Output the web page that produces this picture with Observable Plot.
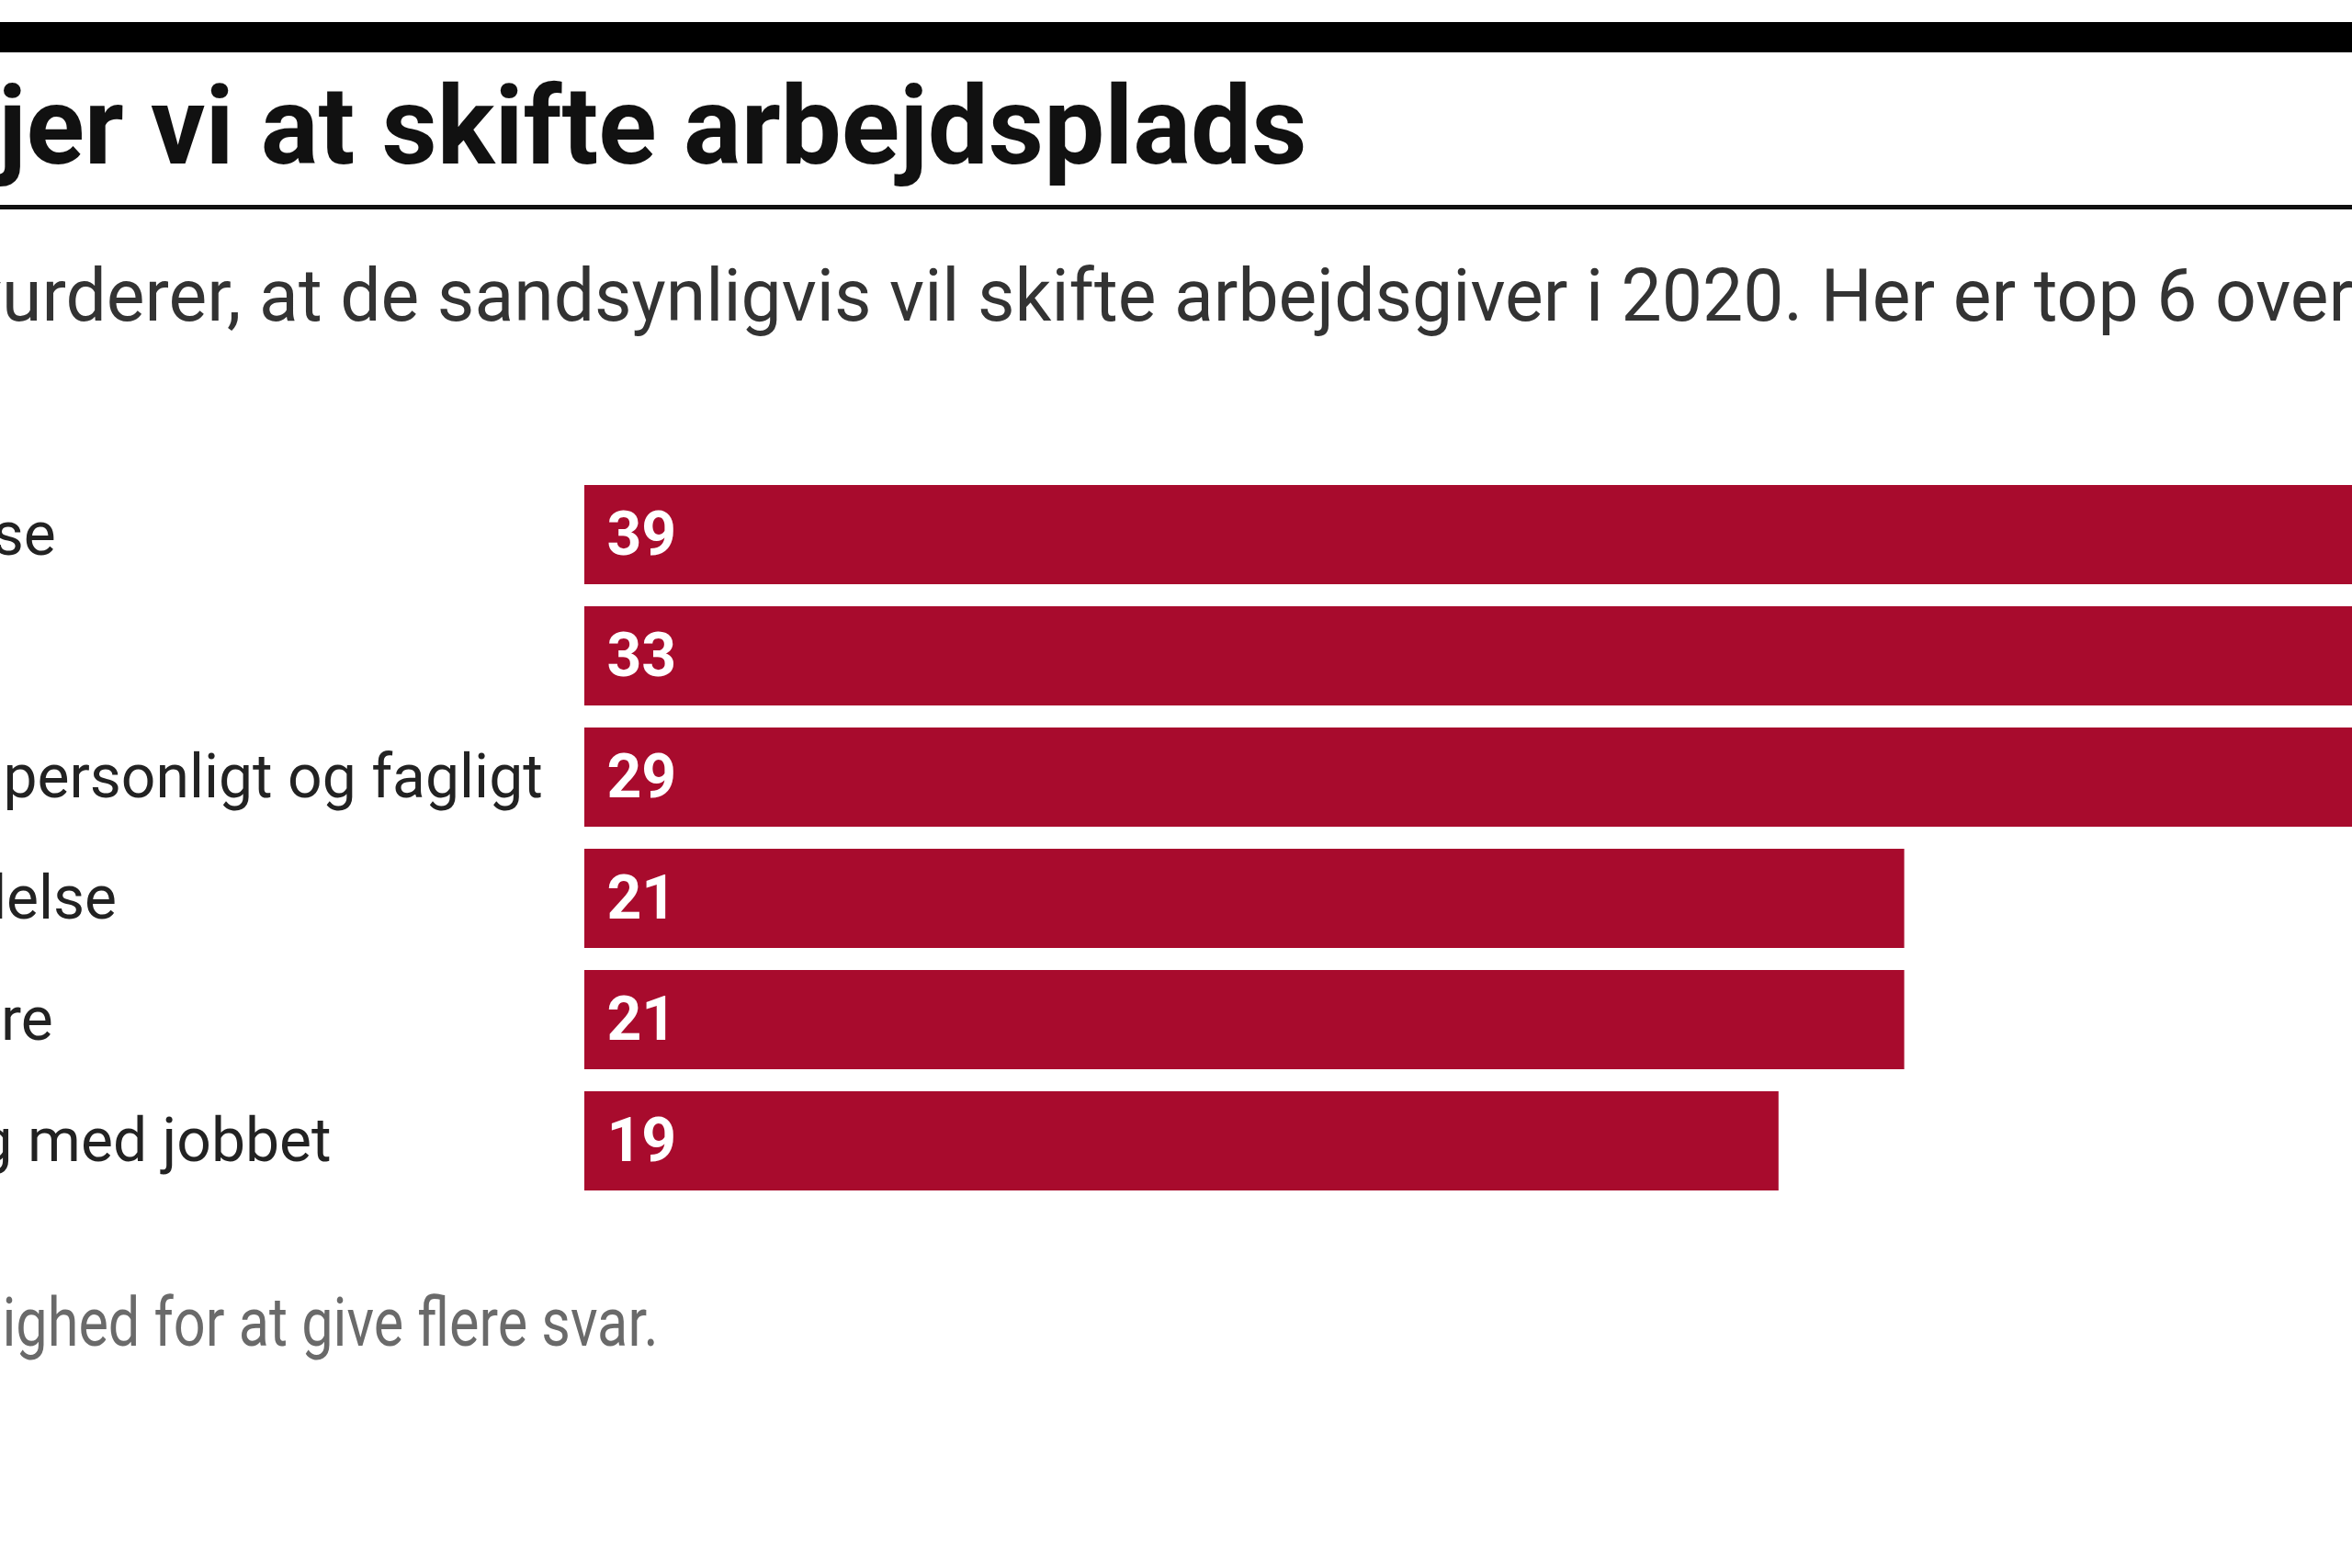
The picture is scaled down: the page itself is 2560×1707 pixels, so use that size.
<!DOCTYPE html>
<html lang="da">
<head>
<meta charset="utf-8">
<script src="https://cdn.jsdelivr.net/npm/d3@7"></script>
<script src="https://cdn.jsdelivr.net/npm/@observablehq/plot@0.6"></script>
<style>
  html, body { margin: 0; padding: 0; background: #fff; }
  body { width: 2560px; height: 1707px; overflow: hidden; position: relative; font-family: Roboto, sans-serif; }
  #g { position: absolute; left: -710px; top: 0; width: 4100px; height: 1707px; }
  .rule-thick { position: absolute; left: 0; top: 24px; width: 100%; height: 33px; background: #000; }
  .rule-thin { position: absolute; left: 0; top: 223px; width: 100%; height: 5px; background: #111; }
  .title { position: absolute; left: -10px; top: 79px; font-size: 118px; line-height: 1; font-weight: 700; color: #111; white-space: nowrap; margin: 0; transform: scaleX(0.995); transform-origin: 0 0; }
  .subtitle { position: absolute; left: -30px; top: 282px; font-size: 80px; line-height: 1; font-weight: 400; color: #333; white-space: nowrap; margin: 0; transform: scaleX(0.9835); transform-origin: 0 0; }
  #chart { position: absolute; left: 0; top: 440px; }
  .note { position: absolute; left: -28px; top: 1402px; font-size: 75px; line-height: 1; color: #6a6a6a; white-space: nowrap; margin: 0; transform: scaleX(0.816); transform-origin: 0 0; }
</style>
</head>
<body>
<div id="g">
  <div class="rule-thick"></div>
  <h1 class="title" id="title"></h1>
  <div class="rule-thin"></div>
  <p class="subtitle" id="subtitle"></p>
  <div id="chart"></div>
  <p class="note" id="note"></p>
</div>
<script>
// ---- data ----
const titleText = "Derfor overvejer vi at skifte arbejdsplads";
const subtitleText = "Hver femte dansker vurderer, at de sandsynligvis vil skifte arbejdsgiver i 2020. Her er top 6 over årsagerne.";
const noteText = "Respondenterne havde mulighed for at give flere svar.";

const reasons = [
  "Mangel på medindflydelse",
  "For lav løn",
  "Ønske om at udvikle sig personligt og fagligt",
  "Dårlig og fraværende ledelse",
  "Dårlige relationer til ledere",
  "Utilstrækkelig udfordring med jobbet"
];
const shares = [39, 33, 29, 21, 21, 19];

// ---- build ----
document.getElementById("title").textContent = titleText;
document.getElementById("subtitle").textContent = subtitleText;
document.getElementById("note").textContent = noteText;

const data = reasons.map((r, i) => ({label: r, value: shares[i]}));

const W = 4100, H = 900, ML = 1346, MR = 86, MT = 87, MB = 44;

const chart = Plot.plot({
  width: W,
  height: H,
  marginLeft: ML,
  marginRight: MR,
  marginTop: MT,
  marginBottom: MB,
  x: {domain: [0, d3.max(shares)], axis: null},
  y: {domain: reasons, paddingInner: 0.183, paddingOuter: 0, label: null},
  style: {fontFamily: "Roboto, sans-serif", fontSize: "66px", background: "transparent", overflow: "visible"},
  marks: [
    Plot.barX(data, {x: "value", y: "label", fill: "#a80b2d"}),
    Plot.text(data, {
      y: "label", text: d => String(d.value), frameAnchor: "left",
      dx: 24, textAnchor: "start", fill: "#fff", fontWeight: 700, fontSize: 66
    }),
    Plot.axisY({tickSize: 0, tickPadding: ML - 1, textAnchor: "start", fontSize: 66, fill: "#222", label: null})
  ]
});
document.getElementById("chart").appendChild(chart);
</script>
</body>
</html>
